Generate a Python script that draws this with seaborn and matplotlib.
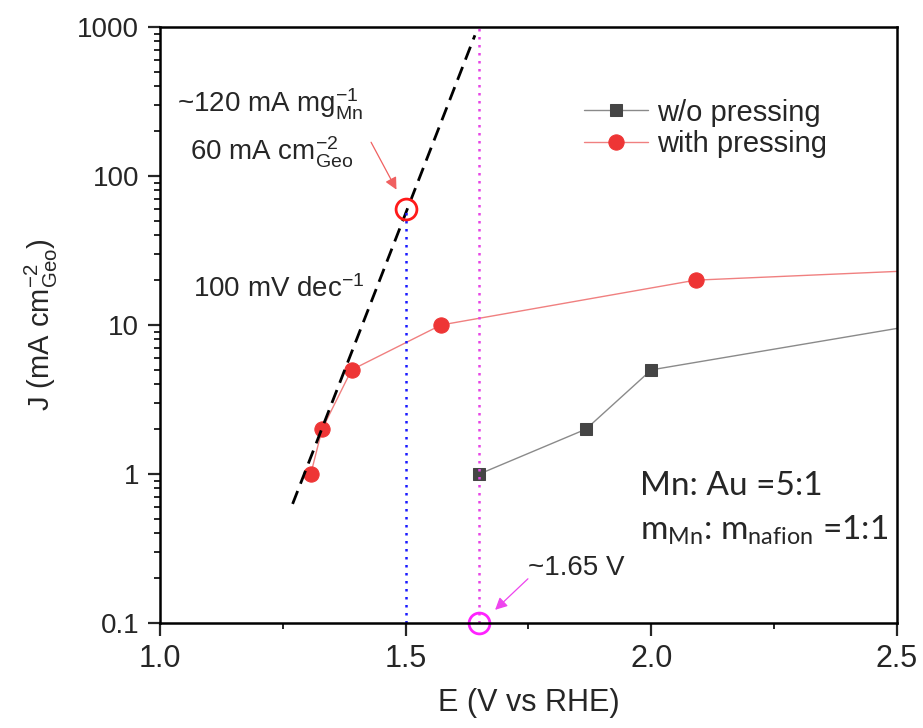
import matplotlib
matplotlib.use("Agg")
import matplotlib.pyplot as plt
import seaborn as sns
import numpy as np
import pandas as pd
from matplotlib.ticker import AutoMinorLocator

# data
E_without = [1.65, 1.867, 2.0, 3.0]
J_without = [1.0, 2.0, 5.0, 18.0]
E_with = [1.307, 1.33, 1.39, 1.572, 2.09, 3.0]
J_with = [1.0, 2.0, 5.0, 10.0, 20.0, 27.0]

tafel_E = [1.27, 1.641]
tafel_J = [0.63, 880.0]

mass_E, mass_J = 1.5, 60.0      # ~120 mA/mg point
onset_E, onset_J = 1.65, 0.1    # ~1.65 V onset

x_ticks = [1.0, 1.5, 2.0, 2.5]
y_ticks = [0.1, 1, 10, 100, 1000]
y_ticklabels = ["0.1", "1", "10", "100", "1000"]

sns.set_style("ticks")
plt.rcParams['font.family'] = ['Liberation Sans', 'DejaVu Sans']
plt.rcParams['mathtext.default'] = 'regular'

fig = plt.figure(figsize=(9.23, 7.28), dpi=100)
ax = fig.add_axes([0.1733, 0.1442, 0.7985, 0.8187])

df_wo = pd.DataFrame({"E": E_without, "J": J_without})
df_w = pd.DataFrame({"E": E_with, "J": J_with})

sns.lineplot(data=df_wo, x="E", y="J", ax=ax, color="#8a8a8a", lw=1.0,
             marker="s", markersize=9, markerfacecolor="#454545",
             markeredgecolor="#454545", label="w/o pressing")
sns.lineplot(data=df_w, x="E", y="J", ax=ax, color="#f08080", lw=1.0,
             marker="o", markersize=11, markerfacecolor="#ee3535",
             markeredgecolor="#ee3535", label="with pressing")

# Tafel fit
ax.plot(tafel_E, tafel_J, color="black", lw=2.0, linestyle=(0, (5, 2.8)))

# guide lines
ax.plot([mass_E, mass_E], [0.1, mass_J], color="#1a1aff", lw=1.8,
        linestyle=(0, (1, 2.2)))
ax.axvline(onset_E, color="#e645e6", lw=1.8, linestyle=(0, (1, 2.2)))

ax.plot([mass_E], [mass_J], marker="o", markersize=15, mfc="none",
        mec="#ff1a1a", mew=2.0, clip_on=False)
ax.plot([onset_E], [onset_J], marker="o", markersize=15, mfc="none",
        mec="#ff22ff", mew=2.0, clip_on=False)

# annotations
ax.annotate("", xy=(1.484, 78), xytext=(1.427, 175),
            arrowprops=dict(arrowstyle="-|>", color="#f06060", lw=0.9,
                            mutation_scale=18))
ax.annotate("", xy=(1.678, 0.119), xytext=(1.753, 0.204),
            arrowprops=dict(arrowstyle="-|>", color="#ee44ee", lw=0.9,
                            mutation_scale=18))

ax.text(1.035, 265, r"~120 mA mg$^{-1}_{Mn}$", fontsize=20, va="baseline")
ax.text(1.061, 128, r"60 mA cm$^{-2}_{Geo}$", fontsize=20, va="baseline")
ax.text(1.067, 15.4, r"100 mV dec$^{-1}$", fontsize=20, va="baseline")
ax.text(1.749, 0.21, "~1.65 V", fontsize=20, va="baseline")
ax.text(1.977, 0.723, "Mn: Au =5:1", fontsize=24, va="baseline",
        family=["Lato", "DejaVu Sans"])
ax.text(1.977, 0.36, r"m$_{Mn}$: m$_{nafion}$ =1:1", fontsize=24,
        va="baseline", family=["Lato", "DejaVu Sans"])

ax.set_yscale("log")
ax.set_xlim(1.0, 2.5)
ax.set_ylim(0.1, 1000)
ax.set_xticks(x_ticks)
ax.set_xticklabels([f"{v:.1f}" for v in x_ticks])
ax.set_yticks(y_ticks)
ax.set_yticklabels(y_ticklabels)
ax.xaxis.set_minor_locator(AutoMinorLocator(2))

ax.tick_params(axis="both", which="major", direction="out", length=9,
               width=1.6, labelsize=20, pad=6)
ax.tick_params(axis="x", which="major", labelsize=22)
ax.tick_params(axis="both", which="minor", direction="out", length=4.5,
               width=1.4)

for sp in ax.spines.values():
    sp.set_linewidth(1.8)
    sp.set_color("black")

ax.set_xlabel("E (V vs RHE)", fontsize=22, labelpad=10)
ax.set_ylabel(r"J (mA cm$^{-2}_{Geo}$)", fontsize=21, labelpad=12)

leg = ax.legend(loc="upper left", bbox_to_anchor=(0.575, 0.88),
                frameon=False, fontsize=21, handlelength=2.2,
                handletextpad=0.3, labelspacing=0.12, borderpad=0,
                borderaxespad=0)

fig.savefig("out.png", dpi=100)
